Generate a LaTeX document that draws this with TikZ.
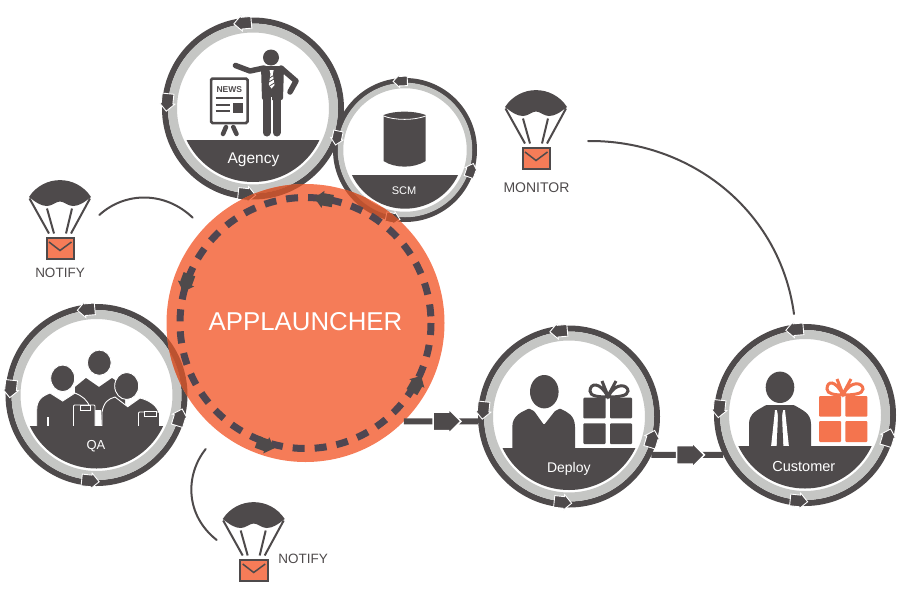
\documentclass[tikz,border=0pt]{standalone}
\usepackage{fontspec}
\setmainfont{Liberation Sans}
\usetikzlibrary{shapes.arrows}

\definecolor{ink}{HTML}{4E4A4B}
\definecolor{ringgray}{HTML}{C5C6C4}
\definecolor{coral}{HTML}{F57C58}
\definecolor{giftcoral}{HTML}{F4744E}
\definecolor{dashink}{HTML}{4F4651}
\definecolor{overgray}{HTML}{D2603A}
\definecolor{overink}{HTML}{BC5230}

\newcommand{\ringarrows}[4]{
	\foreach \a [evaluate=\a as \b using int(\a+90)] in {#4}
		\node[#2,rotate=\b] (#1arrow\a) at ([shift={(-\a:#3)}]#1.center) {};
}
\newcommand{\band}[3]{
	\begin{scope}
		\clip (#1.center) circle (#2);
		\fill[ink] (0,#3) rectangle (900,600);
	\end{scope}
}

\tikzset{
	bigring/.style={circle,fill=white,draw=ink,line width=6,minimum size=176,inner sep=0},
	smallring/.style={circle,fill=white,draw=ink,line width=5,minimum size=139,inner sep=0},
	ringarrow/.style={single arrow,fill=ink,draw=white,line width=.9,minimum height=16,
		single arrow head extend=2,inner sep=5.4},
	tinyarrow/.style={ringarrow,minimum height=13,inner sep=4.3,single arrow head extend=1.6},
	dasharrow/.style={single arrow,fill=ink,minimum height=18,
		single arrow head extend=2.5,inner sep=6},
	flowhead/.style={single arrow,fill=ink,draw=white,line width=1.5,minimum height=27,
		single arrow head extend=3,inner sep=8.5},
	flow/.style={draw=ink,line width=6},
	wire/.style={draw=ink,line width=2,line cap=round},
	person/.style={fill=ink,draw=white,line width=.9},
	band label/.style={text=white,inner sep=0},
	dark label/.style={text=ink,inner sep=0},
	parachute/.pic={
		\fill[ink] (-31,0) .. controls (-16.3,-22.5) and (16.3,-22.5) .. (31,0)
			.. controls (24,5.5) and (19,9) .. (13,9) .. controls (8,9) and (4,4.5) .. (0,4.5)
			.. controls (-4,4.5) and (-8,9) .. (-13,9) .. controls (-19,9) and (-24,5.5) .. cycle;
		\draw[ink,line width=2] (-30.5,1.5) -- (-11,36.5) (-13,11.5) -- (-6,36.5)
			(12,11.5) -- (6,36.5) (30,1.5) -- (11,36.5);
		\draw[ink,line width=2,fill=coral] (-13.5,41) rectangle (14,61.5);
		\draw[ink,line width=1.5] (-11,45) -- (0,53.5) -- (11.5,45);
	}
}

\begin{document}
\begin{tikzpicture}[x=1pt,y=-1pt]
		\useasboundingbox (0,0) rectangle (900,600);

		\node[bigring] (agency) at (253,108.5) {};
		\draw[ringgray,line width=9] (agency.center) circle (80.5);
		\node[bigring] (qa) at (96.5,395) {};
		\draw[ringgray,line width=9] (qa.center) circle (80.5);
		\node[bigring] (deploy) at (569,416.5) {};
		\draw[ringgray,line width=9] (deploy.center) circle (80.5);
		\node[bigring] (customer) at (805,415) {};
		\draw[ringgray,line width=9] (customer.center) circle (80.5);

		% agency
		\fill[ink] (271,57.5) circle (8);
		\draw[ink,line width=5.5,line cap=round,line join=round] (235.5,65.5) -- (250,71) -- (264,68);
		\draw[ink,line width=5.5,line cap=round,line join=round] (281,68) -- (296,81) -- (290,92);
		\fill[ink,rounded corners=2] (261,66) -- (284,66) -- (283,100) -- (262,100) -- cycle;
		\draw[ink,line width=8,line cap=round] (266.5,95) -- (266.5,132.5) (276.7,95) -- (276.7,132.5);
		\fill[white] (271,97) rectangle (272.4,137);
		\fill[white] (269.5,70) -- (273.7,70) -- (272.8,74) -- (274.5,85) -- (271.6,88.5) -- (268.8,85) -- (270.5,74) -- cycle;
		\draw[ink,line width=.8] (269.5,78) -- (273.5,75.5) (269,82) -- (274,79) (269.5,86) -- (274.3,83);
		\draw[ink,line width=2.5,fill=white,rounded corners=1.5] (211,78.5) rectangle (247.5,123);
		\node[text=ink,inner sep=0,font=\fontsize{8.5}{9}\selectfont\bfseries] (newstext) at (229.3,89.5) {NEWS};
		\draw[ink,line width=2] (215.7,97.5) -- (243.3,97.5) (215.7,104.5) -- (230,104.5) (215.7,111.2) -- (230,111.2);
		\fill[ink] (232.7,103.3) rectangle (243.3,113.3);
		\draw[ink,line width=4.5,line cap=round] (226,127) -- (223,134) (233.3,127) -- (236.5,134);
		\band{agency}{73.5}{140}
		\node[band label,font=\fontsize{15.5}{17}\selectfont] (agencytext) at (253.5,159.5) {Agency};
		\ringarrows{agency}{ringarrow}{86}{95,174,264}

		\node[smallring] (scm) at (405,150) {};
		\draw[ringgray,line width=5.5] (scm.center) circle (64.5);
		\fill[ink] (383.5,115) -- (383.5,161) .. controls (395,168.5) and (414,168.5) .. (425.7,161) -- (425.7,115)
			.. controls (414,110.5) and (395,110.5) .. cycle;
		\draw[white,line width=.8] (383.5,116) .. controls (395,120.5) and (414,120.5) .. (425.7,116);
		\band{scm}{58.7}{175}
		\node[band label,font=\fontsize{11}{13}\selectfont] (scmtext) at (404,191) {SCM};
		\ringarrows{scm}{tinyarrow}{69}{92,168,258,341}

		% qa
		\fill[ink] (75,430) -- (75,387) -- (86,378) -- (99,387) -- (112,378) -- (125,387) -- (125,430) -- cycle;
		\fill[white] (94,410) -- (101,410) -- (102,430) -- (93,430) -- cycle;
		\fill[person] (99.3,362.7) ellipse (11.9 and 12.6);
		\draw[person] (36.7,430) -- (36.7,410) .. controls (36.7,400) and (42,396) .. (50,393) -- (62.7,401) -- (75,393)
			.. controls (82,396) and (88,400) .. (90,408) -- (90,430) -- cycle;
		\draw[person] (62.7,378.3) ellipse (12 and 13.3);
		\draw[white,line width=1.2] (48,417) -- (48,427);
		\draw[person,rounded corners=1] (73.5,405) -- (95,405) -- (95,430) -- (73.5,430) -- cycle;
		\draw[person] (80,405) rectangle (90.7,410);
		\draw[person] (102,430) -- (102,412) .. controls (104,402) and (108,399) .. (115,397) -- (127.7,406.7) -- (140,398)
			.. controls (148,400) and (158,405) .. (159.5,415) -- (159.5,430) -- cycle;
		\draw[person] (126.7,386) ellipse (12 and 13.5);
		\draw[person,rounded corners=1] (138.5,412) -- (159.5,412) -- (159.5,430) -- (138.5,430) -- cycle;
		\draw[person] (144.5,411) rectangle (156,416);
		\band{qa}{73.5}{426}
		\node[band label,font=\fontsize{13}{15}\selectfont] (qatext) at (96,446.5) {QA};
		\ringarrows{qa}{ringarrow}{86}{95,174,264,343}

		% deploy
		\fill[ink] (544.3,391.7) ellipse (14.3 and 16.7);
		\fill[ink,rounded corners=1] (512.3,450) -- (512.3,428) .. controls (512.3,415) and (522,412) .. (529,408.5) -- (534,411) -- (544,425)
			-- (555,411) -- (560,408.5) .. controls (567,412) and (575,415) .. (575,428) -- (575,450) -- cycle;
		\fill[ink,rounded corners=1] (583.3,397.7) rectangle (605.7,418.3) (610,397.7) rectangle (632,418.3)
			(583.3,423.3) rectangle (605.7,444) (610,423.3) rectangle (632,444);
		\draw[ink,line width=3] (608,397) .. controls (600,381) and (590,383) .. (590,391) .. controls (590,396) and (598,397) .. (608,397)
			.. controls (616,381) and (628,385) .. (628,391) .. controls (628,396) and (618,397) .. (608,397)
			(602,381) -- (608,396) -- (616,381);
		\band{deploy}{73.5}{448}
		\node[band label,font=\fontsize{14}{16}\selectfont] (deploytext) at (568.8,469) {Deploy};
		\ringarrows{deploy}{ringarrow}{86}{95,174,264,343}

		% customer
		\fill[ink] (780,387.3) ellipse (14.3 and 15.7);
		\fill[ink,rounded corners=1] (749,450) -- (749,425) .. controls (749,413) and (758,410) .. (766,405) -- (794,405)
			.. controls (802,410) and (811,413) .. (811,425) -- (811,450) -- cycle;
		\fill[white] (770.7,450) -- (775,410) -- (785,410) -- (789.3,450) -- cycle;
		\fill[ink] (777,410) -- (783,410) -- (782,416) -- (783.5,450) -- (776.5,450) -- (778,416) -- cycle;
		\fill[giftcoral,rounded corners=1] (819,396) rectangle (841,416.7) (845.3,396) rectangle (867.3,416.7)
			(819,421) rectangle (841,442) (845.3,421) rectangle (867.3,442);
		\draw[giftcoral,line width=3] (843,395) .. controls (835,379) and (827,381) .. (827,389) .. controls (827,394) and (835,395) .. (843,395)
			.. controls (851,379) and (863,383) .. (863,389) .. controls (863,394) and (853,395) .. (843,395)
			(837,379) -- (843,394) -- (851,379);
		\band{customer}{73.5}{446}
		\node[band label,font=\fontsize{14.5}{16}\selectfont] (customertext) at (803.8,466.7) {Customer};
		\ringarrows{customer}{ringarrow}{86}{95,174,264,343}

		\node[circle,fill=coral,minimum size=278,inner sep=0,outer sep=0] (applauncher) at (305.5,323) {};

		\begin{scope}
			\clip (applauncher.center) circle (139);
			\draw[overgray,line width=9] (agency.center) circle (80.5);
			\draw[overink,line width=6] (agency.center) circle (88);
			\draw[overgray,line width=5.5] (scm.center) circle (64.5);
			\draw[overink,line width=5] (scm.center) circle (69.5);
			\draw[overgray,line width=9] (qa.center) circle (80.5);
			\draw[overink,line width=6] (qa.center) circle (88);
			\node[tinyarrow,fill=overink,draw=coral,rotate=348] (scmoverarrow) at (scmarrow258) {};
			\node[ringarrow,fill=overink,draw=coral,rotate=354] (agencyoverarrow) at (agencyarrow264) {};
		\end{scope}

		\draw[dashink,line width=7,dash pattern=on 12 off 10] (applauncher.center) circle (125.5);
		\node[dasharrow,rotate=170] (dashtop) at (326.7,200) {};
		\node[dasharrow,rotate=250] (dashleft) at (187.3,280) {};
		\node[dasharrow,rotate=340] (dashbottom) at (262.7,444) {};
		\node[dasharrow,rotate=60] (dashright) at (415,386.7) {};
		\node[text=white,inner sep=0,font=\fontsize{25.8}{28}\selectfont] (applaunchertext) at (305.5,322) {APPLAUNCHER};

		\path (applauncher.-45.4) edge [flow] node[flowhead,pos=.52] (deployhead) {} (deploy.183.5)
			(deploy.-25.7) edge [flow] node[flowhead,pos=.48] (customerhead) {} (customer.206.8);

		\pic at (60,197) {parachute};
		\node[dark label,font=\fontsize{13.5}{15}\selectfont] (notifyleft) at (60,272.5) {NOTIFY};
		\pic at (253.7,519) {parachute};
		\node[dark label,font=\fontsize{13.5}{15}\selectfont] (notifybottom) at (303,559.3) {NOTIFY};
		\pic at (536,107) {parachute};
		\node[dark label,font=\fontsize{14}{16}\selectfont] (monitortext) at (536.5,187.7) {MONITOR};

		\coordinate (wirea) at (99.3,215);
		\coordinate (wireb) at (192.7,217.7);
		\coordinate (wirec) at (205.7,449);
		\coordinate (wired) at (216.7,540);
		\coordinate (wiree) at (588,141);
		\coordinate (wiref) at (794,314);
		\draw[wire] (wirea) .. controls (125,191.5) and (165,191) .. (wireb);
		\draw[wire] (wirec) .. controls (185,475) and (185,515) .. (wired);
		\draw[wire] (wiree) .. controls (690,140) and (780,210) .. (wiref);
\end{tikzpicture}
\end{document}
